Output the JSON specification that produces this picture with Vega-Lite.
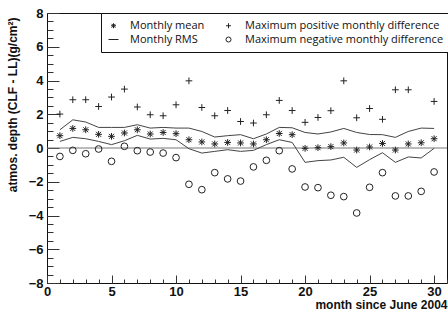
{
  "$schema": "https://vega.github.io/schema/vega-lite/v6.json",
  "width": 400,
  "height": 270,
  "autosize": {"type": "none"},
  "padding": {"left": 47, "top": 13, "right": 1, "bottom": 27},
  "config": {
    "view": {"stroke": "#111", "strokeWidth": 1},
    "axis": {
      "grid": false, "domain": false,
      "labelFont": "Liberation Sans", "labelFontWeight": "bold", "labelFontSize": 13, "labelColor": "#111",
      "titleFont": "Liberation Sans", "titleFontWeight": "bold", "titleFontSize": 12, "titleColor": "#111",
      "tickColor": "#333", "tickWidth": 1, "labelFlush": false, "labelOverlap": false
    },
    "legend": {
      "orient": "none", "legendX": 54, "legendY": 0, "columns": 2, "columnPadding": 18, "rowPadding": 2,
      "padding": 7, "strokeColor": "#111", "fillColor": "white", "cornerRadius": 0,
      "labelFont": "Open Sans", "labelFontSize": 11, "labelColor": "#111", "labelOffset": 11, "labelLimit": 400,
      "symbolSize": 25, "symbolStrokeWidth": 1
    }
  },
  "datasets": {
    "rms": [
      {"m": 1, "upper": 1.08, "lower": 0.39}, {"m": 2, "upper": 1.67, "lower": 0.63}, {"m": 3, "upper": 1.54, "lower": 0.55},
      {"m": 4, "upper": 1.22, "lower": 0.39}, {"m": 5, "upper": 1.22, "lower": 0.20}, {"m": 6, "upper": 1.22, "lower": 0.43},
      {"m": 7, "upper": 1.38, "lower": 0.75}, {"m": 8, "upper": 1.18, "lower": 0.53}, {"m": 9, "upper": 1.22, "lower": 0.57},
      {"m": 10, "upper": 1.18, "lower": 0.49}, {"m": 11, "upper": 1.18, "lower": -0.04}, {"m": 12, "upper": 0.98, "lower": -0.30},
      {"m": 13, "upper": 0.65, "lower": -0.20}, {"m": 14, "upper": 0.73, "lower": -0.10}, {"m": 15, "upper": 0.79, "lower": -0.20},
      {"m": 16, "upper": 0.55, "lower": -0.14}, {"m": 17, "upper": 0.83, "lower": 0.20}, {"m": 18, "upper": 1.22, "lower": 0.49},
      {"m": 19, "upper": 1.20, "lower": 0.33}, {"m": 20, "upper": 0.92, "lower": -0.85}, {"m": 21, "upper": 0.83, "lower": -0.75},
      {"m": 22, "upper": 0.95, "lower": -0.71}, {"m": 23, "upper": 1.16, "lower": -0.55}, {"m": 24, "upper": 0.92, "lower": -1.15},
      {"m": 25, "upper": 0.80, "lower": -0.69}, {"m": 26, "upper": 0.79, "lower": -0.28}, {"m": 27, "upper": 0.63, "lower": -0.85},
      {"m": 28, "upper": 0.98, "lower": -0.53}, {"m": 29, "upper": 1.18, "lower": -0.59}, {"m": 30, "upper": 1.16, "lower": -0.02}
    ],
    "pts": [
      {"m": 1, "s": "Monthly mean", "v": 0.73}, {"m": 2, "s": "Monthly mean", "v": 1.16}, {"m": 3, "s": "Monthly mean", "v": 1.08},
      {"m": 4, "s": "Monthly mean", "v": 0.81}, {"m": 5, "s": "Monthly mean", "v": 0.69}, {"m": 6, "s": "Monthly mean", "v": 0.89},
      {"m": 7, "s": "Monthly mean", "v": 1.08}, {"m": 8, "s": "Monthly mean", "v": 0.83}, {"m": 9, "s": "Monthly mean", "v": 0.92},
      {"m": 10, "s": "Monthly mean", "v": 0.85}, {"m": 11, "s": "Monthly mean", "v": 0.49}, {"m": 12, "s": "Monthly mean", "v": 0.36},
      {"m": 13, "s": "Monthly mean", "v": 0.24}, {"m": 14, "s": "Monthly mean", "v": 0.33}, {"m": 15, "s": "Monthly mean", "v": 0.30},
      {"m": 16, "s": "Monthly mean", "v": 0.24}, {"m": 17, "s": "Monthly mean", "v": 0.49}, {"m": 18, "s": "Monthly mean", "v": 0.86},
      {"m": 19, "s": "Monthly mean", "v": 0.79}, {"m": 20, "s": "Monthly mean", "v": -0.02}, {"m": 21, "s": "Monthly mean", "v": 0.02},
      {"m": 22, "s": "Monthly mean", "v": 0.08}, {"m": 23, "s": "Monthly mean", "v": 0.30}, {"m": 24, "s": "Monthly mean", "v": -0.12},
      {"m": 25, "s": "Monthly mean", "v": 0.06}, {"m": 26, "s": "Monthly mean", "v": 0.27}, {"m": 27, "s": "Monthly mean", "v": -0.12},
      {"m": 28, "s": "Monthly mean", "v": 0.24}, {"m": 29, "s": "Monthly mean", "v": 0.31}, {"m": 30, "s": "Monthly mean", "v": 0.55},
      {"m": 1, "s": "Maximum positive monthly difference", "v": 2.01}, {"m": 2, "s": "Maximum positive monthly difference", "v": 2.86},
      {"m": 3, "s": "Maximum positive monthly difference", "v": 2.86}, {"m": 4, "s": "Maximum positive monthly difference", "v": 2.46},
      {"m": 5, "s": "Maximum positive monthly difference", "v": 3.02}, {"m": 6, "s": "Maximum positive monthly difference", "v": 3.49},
      {"m": 7, "s": "Maximum positive monthly difference", "v": 2.43}, {"m": 8, "s": "Maximum positive monthly difference", "v": 1.97},
      {"m": 9, "s": "Maximum positive monthly difference", "v": 1.91}, {"m": 10, "s": "Maximum positive monthly difference", "v": 2.56},
      {"m": 11, "s": "Maximum positive monthly difference", "v": 3.98}, {"m": 12, "s": "Maximum positive monthly difference", "v": 2.40},
      {"m": 13, "s": "Maximum positive monthly difference", "v": 1.91}, {"m": 14, "s": "Maximum positive monthly difference", "v": 2.22},
      {"m": 15, "s": "Maximum positive monthly difference", "v": 1.57}, {"m": 16, "s": "Maximum positive monthly difference", "v": 1.48},
      {"m": 17, "s": "Maximum positive monthly difference", "v": 1.97}, {"m": 18, "s": "Maximum positive monthly difference", "v": 2.82},
      {"m": 19, "s": "Maximum positive monthly difference", "v": 2.22}, {"m": 20, "s": "Maximum positive monthly difference", "v": 1.52},
      {"m": 21, "s": "Maximum positive monthly difference", "v": 1.81}, {"m": 22, "s": "Maximum positive monthly difference", "v": 2.21},
      {"m": 23, "s": "Maximum positive monthly difference", "v": 3.98}, {"m": 24, "s": "Maximum positive monthly difference", "v": 1.79},
      {"m": 25, "s": "Maximum positive monthly difference", "v": 2.34}, {"m": 26, "s": "Maximum positive monthly difference", "v": 1.70},
      {"m": 27, "s": "Maximum positive monthly difference", "v": 3.45}, {"m": 28, "s": "Maximum positive monthly difference", "v": 3.45},
      {"m": 30, "s": "Maximum positive monthly difference", "v": 2.76},
      {"m": 1, "s": "Maximum negative monthly difference", "v": -0.50}, {"m": 2, "s": "Maximum negative monthly difference", "v": -0.14},
      {"m": 3, "s": "Maximum negative monthly difference", "v": -0.34}, {"m": 4, "s": "Maximum negative monthly difference", "v": -0.06},
      {"m": 5, "s": "Maximum negative monthly difference", "v": -0.79}, {"m": 6, "s": "Maximum negative monthly difference", "v": 0.10},
      {"m": 7, "s": "Maximum negative monthly difference", "v": -0.16}, {"m": 8, "s": "Maximum negative monthly difference", "v": -0.24},
      {"m": 9, "s": "Maximum negative monthly difference", "v": -0.30}, {"m": 10, "s": "Maximum negative monthly difference", "v": -0.57},
      {"m": 11, "s": "Maximum negative monthly difference", "v": -2.15}, {"m": 12, "s": "Maximum negative monthly difference", "v": -2.47},
      {"m": 13, "s": "Maximum negative monthly difference", "v": -1.46}, {"m": 14, "s": "Maximum negative monthly difference", "v": -1.83},
      {"m": 15, "s": "Maximum negative monthly difference", "v": -1.96}, {"m": 16, "s": "Maximum negative monthly difference", "v": -1.12},
      {"m": 17, "s": "Maximum negative monthly difference", "v": -0.73}, {"m": 18, "s": "Maximum negative monthly difference", "v": -0.16},
      {"m": 19, "s": "Maximum negative monthly difference", "v": -1.24}, {"m": 20, "s": "Maximum negative monthly difference", "v": -2.31},
      {"m": 21, "s": "Maximum negative monthly difference", "v": -2.35}, {"m": 22, "s": "Maximum negative monthly difference", "v": -2.80},
      {"m": 23, "s": "Maximum negative monthly difference", "v": -2.88}, {"m": 24, "s": "Maximum negative monthly difference", "v": -3.85},
      {"m": 25, "s": "Maximum negative monthly difference", "v": -2.33}, {"m": 26, "s": "Maximum negative monthly difference", "v": -1.46},
      {"m": 27, "s": "Maximum negative monthly difference", "v": -2.84}, {"m": 28, "s": "Maximum negative monthly difference", "v": -2.84},
      {"m": 29, "s": "Maximum negative monthly difference", "v": -2.57}, {"m": 30, "s": "Maximum negative monthly difference", "v": -1.42}
    ]
  },
  "layer": [
    {
      "data": {"values": [{}]},
      "mark": {"type": "rule", "color": "#777", "strokeWidth": 1},
      "encoding": {"y": {"datum": 0, "type": "quantitative", "scale": {"domain": [-8, 8], "nice": false, "zero": false}, "axis": null}}
    },
    {
      "data": {"name": "rms"},
      "mark": {"type": "line", "color": "#444", "strokeWidth": 1},
      "encoding": {
        "x": {"field": "m", "type": "quantitative", "scale": {"domain": [0, 31], "nice": false, "zero": false},
          "axis": {"orient": "bottom", "values": [0, 5, 10, 15, 20, 25, 30], "ticks": false, "labelPadding": 2,
            "title": "month since June 2004", "titleAnchor": "end", "titleBaseline": "alphabetic", "titleY": 25}},
        "y": {"field": "upper", "type": "quantitative", "scale": {"domain": [-8, 8], "nice": false, "zero": false},
          "axis": {"orient": "left", "values": [-8, -6, -4, -2, 0, 2, 4, 6, 8], "ticks": false, "labelPadding": 4,
            "title": "atmos. depth (CLF - LL)(g/cm²)", "titleAnchor": "end", "titlePadding": 9, "titleY": 4}}
      }
    },
    {
      "data": {"name": "rms"},
      "mark": {"type": "line", "color": "#444", "strokeWidth": 1},
      "encoding": {
        "x": {"field": "m", "type": "quantitative", "scale": {"domain": [0, 31], "nice": false, "zero": false},
          "axis": {"orient": "bottom", "values": [0, 5, 10, 15, 20, 25, 30], "labels": false, "tickSize": -8, "title": null}},
        "y": {"field": "lower", "type": "quantitative", "scale": {"domain": [-8, 8], "nice": false, "zero": false},
          "axis": {"orient": "left", "values": [-8, -6, -4, -2, 0, 2, 4, 6, 8], "labels": false, "tickSize": -12, "title": null}}
      }
    },
    {
      "data": {"name": "pts"},
      "mark": {"type": "point", "filled": false, "color": "#222", "strokeWidth": 1, "size": 45, "opacity": 1},
      "encoding": {
        "x": {"field": "m", "type": "quantitative", "scale": {"domain": [0, 31], "nice": false, "zero": false},
          "axis": {"orient": "bottom", "values": [0, 1, 2, 3, 4, 5, 6, 7, 8, 9, 10, 11, 12, 13, 14, 15, 16, 17, 18, 19, 20, 21, 22, 23, 24, 25, 26, 27, 28, 29, 30, 31],
            "labels": false, "tickSize": -4, "title": null}},
        "y": {"field": "v", "type": "quantitative", "scale": {"domain": [-8, 8], "nice": false, "zero": false},
          "axis": {"orient": "left", "values": [-8, -7.5, -7, -6.5, -6, -5.5, -5, -4.5, -4, -3.5, -3, -2.5, -2, -1.5, -1, -0.5, 0, 0.5, 1, 1.5, 2, 2.5, 3, 3.5, 4, 4.5, 5, 5.5, 6, 6.5, 7, 7.5, 8],
            "labels": false, "tickSize": -6, "title": null}},
        "shape": {"field": "s", "type": "nominal",
          "scale": {"domain": ["Monthly mean", "Monthly RMS", "Maximum positive monthly difference", "Maximum negative monthly difference"],
            "range": ["M-1,0L1,0M0,-1L0,1M-0.75,-0.75L0.75,0.75M-0.75,0.75L0.75,-0.75", "M-2,0L2,0", "M-1,0L1,0M0,-1L0,1", "circle"]},
          "legend": {"title": null}}
      }
    }
  ],
  "resolve": {"axis": {"x": "independent", "y": "independent"}}
}
